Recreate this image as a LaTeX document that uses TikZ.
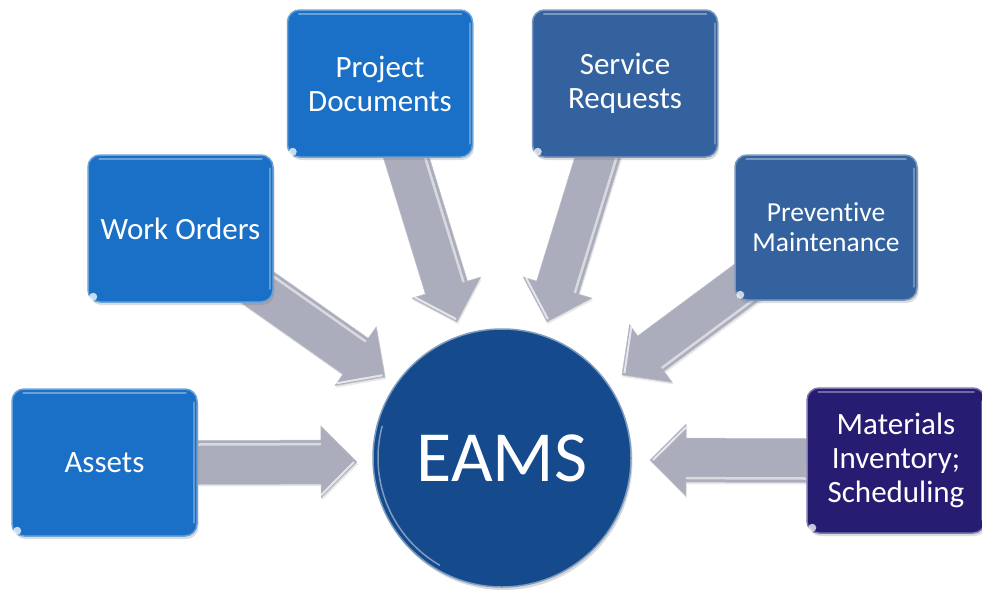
\documentclass[tikz,border=0pt]{standalone}
\usepackage{fontspec}
\setmainfont{Carlito}[Ligatures=NoCommon]
\usetikzlibrary{calc,shadows}
\pgfdeclarelayer{bg}
\pgfsetlayers{bg,main}
\definecolor{bbright}{HTML}{1A70C6}
\definecolor{bsteel}{HTML}{34629E}
\definecolor{bnavy}{HTML}{261C72}
\definecolor{bcirc}{HTML}{154B8C}
\definecolor{agray}{HTML}{ABADBC}
\definecolor{adark}{HTML}{9496A8}
\tikzset{
  tile/.style={rounded corners=12pt, minimum width=185pt, minimum height=147pt,
    inner sep=0pt, align=center, text=white, font=\fontsize{31}{34}\selectfont,
    line width=1.5pt, drop shadow={shadow xshift=1.5pt, shadow yshift=-3pt, opacity=0.28}},
  tbright/.style={tile, fill=bbright, draw=bbright!65!white},
  tsteel/.style={tile, fill=bsteel, draw=bsteel!65!white},
  tnavy/.style={tile, fill=bnavy, draw=bnavy!60!white},
  hub/.style={circle, minimum size=258pt, inner sep=0pt, fill=bcirc, draw=bcirc!55!white,
    line width=1.5pt, text=white, font=\fontsize{72}{80}\selectfont,
    drop shadow={shadow xshift=1.5pt, shadow yshift=-3pt, opacity=0.3}},
  blk/.style={fill=agray, draw=adark!60!white, line width=0.5pt, line join=miter},
}
\newcommand{\blkarrow}[2]{%
  \coordinate (hb) at ($(#2)!36pt!(#1)$);
  \path[blk, drop shadow={shadow xshift=1pt, shadow yshift=-2pt, opacity=0.18}]
    ($(#1)!22pt!90:(#2)$) -- ($(hb)!22pt!90:(#2)$) -- ($(hb)!36pt!90:(#2)$) -- (#2)
    -- ($(hb)!36pt!-90:(#2)$) -- ($(hb)!22pt!-90:(#2)$) -- ($(#1)!22pt!-90:(#2)$) -- cycle;
  \draw[white, opacity=0.55, line width=2.5pt]
    ($(#1)!18pt!90:(#2)$) -- ($(hb)!18pt!90:(#2)$);
  \draw[white, opacity=0.7, line width=2pt]
    ($(hb)!33pt!-90:(#2)$) -- ($(#2)!3pt!(hb)$);
}
\begin{document}
\begin{tikzpicture}[x=1pt, y=-1pt]
\useasboundingbox (0,0) rectangle (982,592);

% boxes
\node[tbright] (as) at (104.5,462.5) {Assets};
\node[tbright] (wo) at (180.5,228.5) {Work Orders};
\node[tbright] (pd) at (380,83.5) {Project\\Documents};
\node[tsteel]  (sr) at (625,83.5) {Service\\Requests};
\node[tsteel, font=\fontsize{27.5}{30}\selectfont, minimum width=182pt, minimum height=145pt] (pm) at (826,227.5) {Preventive\\Maintenance};
\node[tnavy, minimum width=178pt, minimum height=145pt] (mi) at (896,460.5) {Materials\\Inventory;\\Scheduling};

% hub
\node[hub] (eams) at (502,458) {EAMS};
\draw[white, opacity=0.45, line width=1.5pt]
  ($(eams.center)+(165:124pt)$) arc[start angle=165, end angle=240, radius=124pt];

% glossy details on tiles
\foreach \b in {as,wo,pd,sr,pm,mi}{
  \draw[white, opacity=0.35, line width=2pt, line cap=round]
    ([xshift=12pt,yshift=-5pt]\b.north west) -- ([xshift=-12pt,yshift=-5pt]\b.north east);
  \draw[white, opacity=0.3, line width=2pt, line cap=round]
    ([xshift=-3.5pt,yshift=-14pt]\b.north east) -- ([xshift=-3.5pt,yshift=14pt]\b.south east);
  \fill[white, opacity=0.75] ([xshift=6pt,yshift=6pt]\b.south west) circle (4pt);
}

% arrow end points
\coordinate (as-t) at (357,462);
\coordinate (mi-t) at (650,460);
\coordinate (wo-s) at (250,282);
\coordinate (wo-t) at (385,377);
\coordinate (pd-s) at (404,150);
\coordinate (pd-t) at (457,322);
\coordinate (sr-s) at (600,150);
\coordinate (sr-t) at (547,322);
\coordinate (pm-s) at (750,280);
\coordinate (pm-t) at (622,375);

\begin{pgfonlayer}{bg}
  \blkarrow{as.east}{as-t}
  \blkarrow{mi.west}{mi-t}
  \blkarrow{wo-s}{wo-t}
  \blkarrow{pd-s}{pd-t}
  \blkarrow{sr-s}{sr-t}
  \blkarrow{pm-s}{pm-t}
\end{pgfonlayer}
\end{tikzpicture}
\end{document}
